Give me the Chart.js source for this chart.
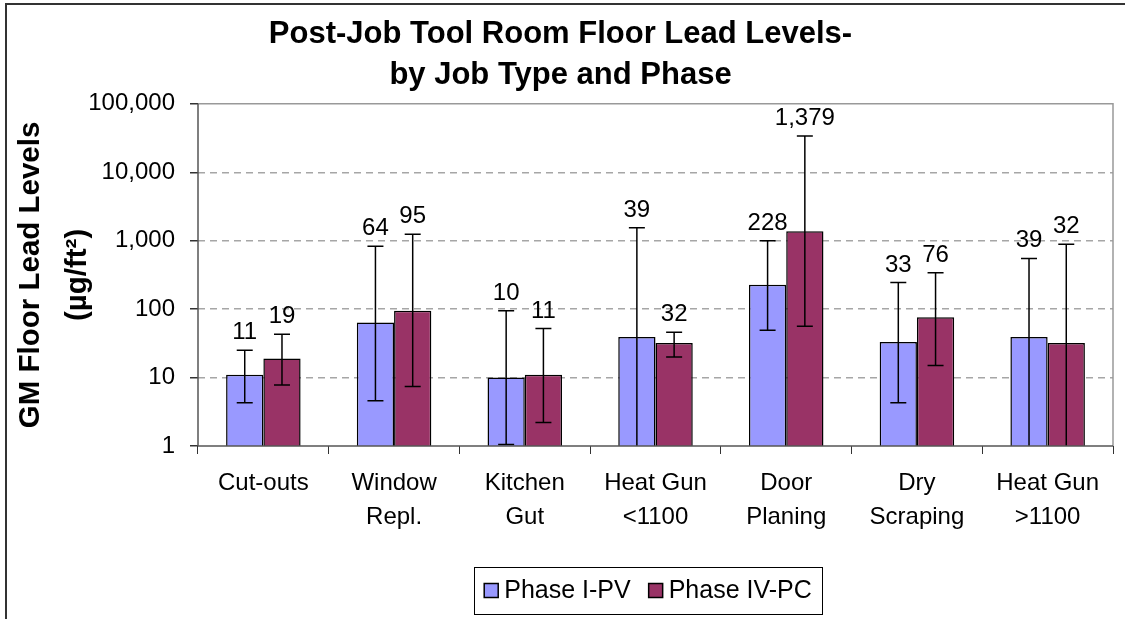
<!DOCTYPE html>
<html>
<head>
<meta charset="utf-8">
<title>Post-Job Tool Room Floor Lead Levels</title>
<script src="https://cdn.jsdelivr.net/npm/chart.js@4/dist/chart.umd.min.js"></script>
<style>
  html, body { margin: 0; padding: 0; background: #fff; }
  canvas { display: block; }
</style>
</head>
<body>
<canvas id="chart" width="1125" height="619"></canvas>
<script>
// data (GM values, error bar low/high)
const jobTypes = [['Cut-outs'], ['Window', 'Repl.'], ['Kitchen', 'Gut'], ['Heat Gun', '<1100'],
  ['Door', 'Planing'], ['Dry', 'Scraping'], ['Heat Gun', '>1100']];
const phase1 = [11, 64, 10, 39, 228, 33, 39];
const phase1Lo = [4.3, 4.6, 1.05, 0.8, 49, 4.3, 0.8];
const phase1Hi = [25, 830, 95, 1540, 1000, 245, 550];
const phase4 = [19, 95, 11, 32, 1379, 76, 32];
const phase4Lo = [7.8, 7.4, 2.2, 20, 56, 15, 0.8];
const phase4Hi = [43, 1240, 52, 46, 33800, 340, 885];
const yTicks = [1, 10, 100, 1000, 10000, 100000];
const seriesNames = ['Phase I-PV', 'Phase IV-PC'];
const seriesColors = ['#9999ff', '#993366'];

const FONT = "'Liberation Sans', Arial, sans-serif";
const errLo = [phase1Lo, phase4Lo];
const errHi = [phase1Hi, phase4Hi];

// error bars + value labels
const errorBars = {
  id: 'errorBars',
  afterDatasetsDraw(chart) {
    const ctx = chart.ctx;
    const y = chart.scales.y;
    const area = chart.chartArea;
    chart.data.datasets.forEach((ds, di) => {
      const meta = chart.getDatasetMeta(di);
      meta.data.forEach((bar, i) => {
        const yHi = y.getPixelForValue(errHi[di][i]);
        const yLo = y.getPixelForValue(errLo[di][i]);
        ctx.save();
        ctx.beginPath();
        ctx.rect(area.left, area.top, area.right - area.left, area.bottom - area.top);
        ctx.clip();
        ctx.strokeStyle = '#000';
        ctx.lineWidth = 1.5;
        ctx.beginPath();
        ctx.moveTo(bar.x, yHi); ctx.lineTo(bar.x, yLo);
        ctx.moveTo(bar.x - 8, yHi); ctx.lineTo(bar.x + 8, yHi);
        ctx.moveTo(bar.x - 8, yLo); ctx.lineTo(bar.x + 8, yLo);
        ctx.stroke();
        ctx.restore();

        ctx.save();
        ctx.fillStyle = '#000';
        ctx.font = '24px ' + FONT;
        ctx.textAlign = 'center';
        ctx.textBaseline = 'alphabetic';
        ctx.fillText(ds.data[i].toLocaleString('en-US'), bar.x, Math.min(yHi, bar.y) - 11);
        ctx.restore();
      });
    });
  }
};

// frames, axis lines and the boxed legend
const frame = {
  id: 'frame',
  afterDraw(chart) {
    const ctx = chart.ctx;
    const a = chart.chartArea;
    ctx.save();
    // outer frame (top + left)
    ctx.strokeStyle = '#333';
    ctx.lineWidth = 2;
    ctx.beginPath();
    ctx.moveTo(6, chart.height); ctx.lineTo(6, 4); ctx.lineTo(chart.width, 4);
    ctx.stroke();
    // plot area
    ctx.lineWidth = 1.5;
    ctx.strokeStyle = '#999';
    ctx.beginPath();
    ctx.moveTo(a.left, a.top); ctx.lineTo(a.right, a.top); ctx.lineTo(a.right, a.bottom);
    ctx.stroke();
    ctx.strokeStyle = '#555';
    ctx.beginPath();
    ctx.moveTo(a.left, a.bottom); ctx.lineTo(a.right, a.bottom);
    ctx.moveTo(a.left, a.top); ctx.lineTo(a.left, a.bottom);
    ctx.stroke();

    // legend
    ctx.font = '25px ' + FONT;
    const sq = 14, gapSq = 6, gapItem = 18, padX = 10;
    const widths = seriesNames.map(n => ctx.measureText(n).width);
    const total = padX * 2 + widths.reduce((s, w) => s + sq + gapSq + w, 0) + gapItem;
    const cx = 648, top = 567, h = 47;
    let x = cx - total / 2;
    ctx.lineWidth = 1;
    ctx.strokeStyle = '#000';
    ctx.strokeRect(Math.round(x) + 0.5, top + 0.5, Math.round(total), h);
    x += padX;
    const midY = top + h / 2;
    seriesNames.forEach((n, i) => {
      ctx.fillStyle = seriesColors[i];
      ctx.fillRect(x, midY - sq / 2, sq, sq);
      ctx.strokeStyle = '#000';
      ctx.lineWidth = 1.5;
      ctx.strokeRect(x, midY - sq / 2, sq, sq);
      x += sq + gapSq;
      ctx.fillStyle = '#000';
      ctx.textAlign = 'left';
      ctx.textBaseline = 'middle';
      ctx.fillText(n, x, midY + 1);
      x += widths[i] + gapItem;
    });
    ctx.restore();
  }
};

new Chart(document.getElementById('chart'), {
  type: 'bar',
  data: {
    labels: jobTypes,
    datasets: [
      { label: seriesNames[0], data: phase1, backgroundColor: seriesColors[0], borderColor: '#000', borderWidth: 1.5 },
      { label: seriesNames[1], data: phase4, backgroundColor: seriesColors[1], borderColor: '#000', borderWidth: 1.5 }
    ]
  },
  options: {
    responsive: false,
    devicePixelRatio: 1,
    animation: false,
    categoryPercentage: 0.57,
    barPercentage: 1.0,
    layout: { padding: { left: 8, right: 12, top: 0, bottom: 0 } },
    plugins: {
      legend: { display: false },
      tooltip: { enabled: false },
      title: {
        display: true,
        text: ['Post-Job Tool Room Floor Lead Levels-', 'by Job Type and Phase'],
        color: '#000',
        font: { family: FONT, size: 31, weight: 'bold', lineHeight: 1.32 },
        padding: { top: 14, bottom: 8 }
      }
    },
    scales: {
      x: {
        afterFit(scale) { scale.height = 173; },
        grid: { drawOnChartArea: false, drawTicks: true, tickLength: 8, tickColor: '#333', offset: true },
        border: { display: false },
        ticks: {
          color: '#000',
          padding: 12,
          maxRotation: 0,
          autoSkip: false,
          font: { family: FONT, size: 24, lineHeight: 1.42 }
        }
      },
      y: {
        type: 'logarithmic',
        min: 1,
        max: 100000,
        afterFit(scale) { scale.width = 190; },
        afterBuildTicks(scale) { scale.ticks = yTicks.map(v => ({ value: v })); },
        grid: {
          color: c => (c.tick && (c.tick.value === 1 || c.tick.value === 100000)) ? 'rgba(0,0,0,0)' : '#a6a6a6',
          lineWidth: 1.5,
          tickColor: '#333',
          tickLength: 8,
          tickBorderDash: []
        },
        border: { display: false, dash: [7, 5] },
        ticks: {
          color: '#000',
          padding: 15,
          font: { family: FONT, size: 24 },
          callback: v => Number(v).toLocaleString('en-US')
        },
        title: {
          display: true,
          text: ['GM Floor Lead Levels', '(µg/ft²)'],
          color: '#000',
          font: { family: FONT, size: 29.5, weight: 'bold', lineHeight: 1.58 },
          padding: { top: 0, bottom: 0 }
        }
      }
    }
  },
  plugins: [errorBars, frame]
});
</script>
</body>
</html>
